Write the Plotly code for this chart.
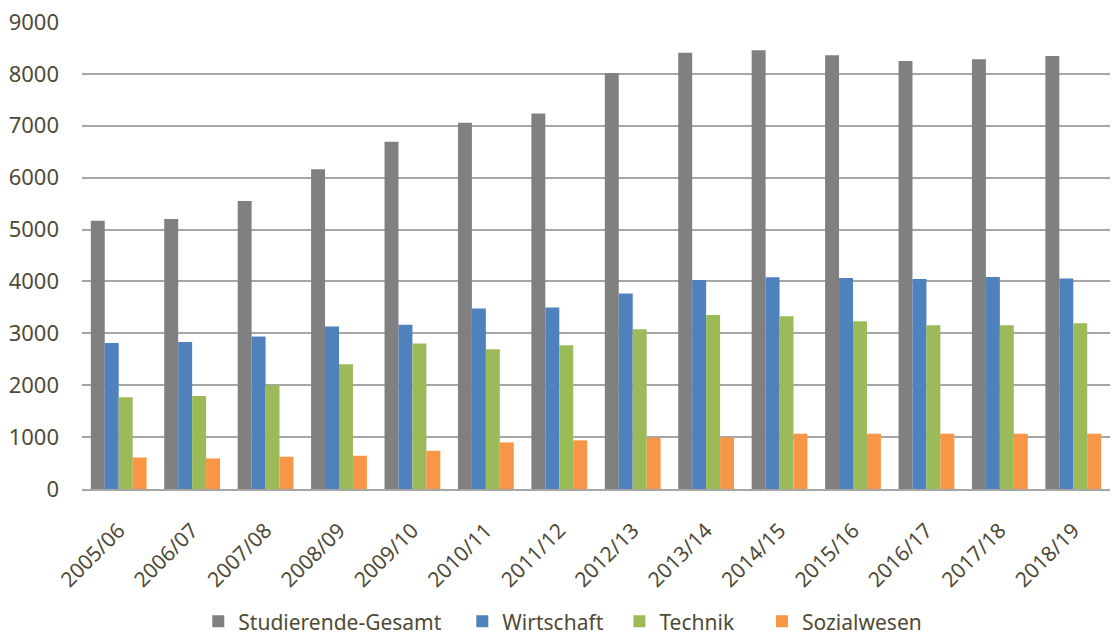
import plotly.graph_objects as go

semester = ["2005/06", "2006/07", "2007/08", "2008/09", "2009/10", "2010/11", "2011/12",
            "2012/13", "2013/14", "2014/15", "2015/16", "2016/17", "2017/18", "2018/19"]
gesamt = [5172, 5205, 5552, 6164, 6692, 7059, 7239, 8018, 8405, 8455, 8359, 8250, 8282, 8347]
wirtschaft = [2816, 2835, 2939, 3132, 3164, 3480, 3499, 3769, 4027, 4079, 4065, 4046, 4085, 4059]
technik = [1767, 1793, 1999, 2404, 2804, 2694, 2771, 3080, 3351, 3331, 3235, 3158, 3158, 3196]
sozialwesen = [608, 589, 622, 641, 737, 898, 937, 988, 994, 1066, 1066, 1066, 1066, 1066]

series = [
    ("Studierende-Gesamt", gesamt, "#808080"),
    ("Wirtschaft", wirtschaft, "#4F81BD"),
    ("Technik", technik, "#9BBB59"),
    ("Sozialwesen", sozialwesen, "#F79646"),
]
legend_x = [0.178, 0.415, 0.556, 0.684]

text_color = "#4F4A36"
font_family = "Noto Sans, Open Sans, sans-serif"

fig = go.Figure()
legend_layouts = {}
for i, (name, vals, color) in enumerate(series):
    key = "legend" if i == 0 else f"legend{i+1}"
    fig.add_trace(go.Bar(x=semester, y=vals, name=name, marker_color=color,
                         marker_line_width=0, legend=key, showlegend=True))
    legend_layouts[key] = dict(
        orientation="h", x=legend_x[i], xanchor="left", xref="container",
        y=0.024, yanchor="middle", yref="container",
        font=dict(size=21, color=text_color), itemwidth=30,
        bgcolor="rgba(0,0,0,0)", visible=True)

fig.update_layout(
    width=1114, height=637,
    showlegend=True,
    margin=dict(l=82, r=4, t=22, b=148, autoexpand=False),
    plot_bgcolor="white", paper_bgcolor="white",
    barmode="group", bargap=0.24, bargroupgap=0,
    font=dict(family=font_family, color=text_color, size=20),
    **legend_layouts,
)
fig.update_xaxes(tickangle=-45, showline=True, linecolor="#A6A6A6", linewidth=2,
                 ticks="", tickfont=dict(size=21, color=text_color),
                 ticklabelstandoff=19, automargin=False)
fig.update_yaxes(range=[0, 9000], dtick=1000, showgrid=True, gridcolor="#A6A6A6",
                 gridwidth=1.5, zeroline=False, showline=False, ticks="",
                 tickfont=dict(size=22, color=text_color), ticklabelstandoff=22,
                 automargin=False)

fig.write_html("out.html")
